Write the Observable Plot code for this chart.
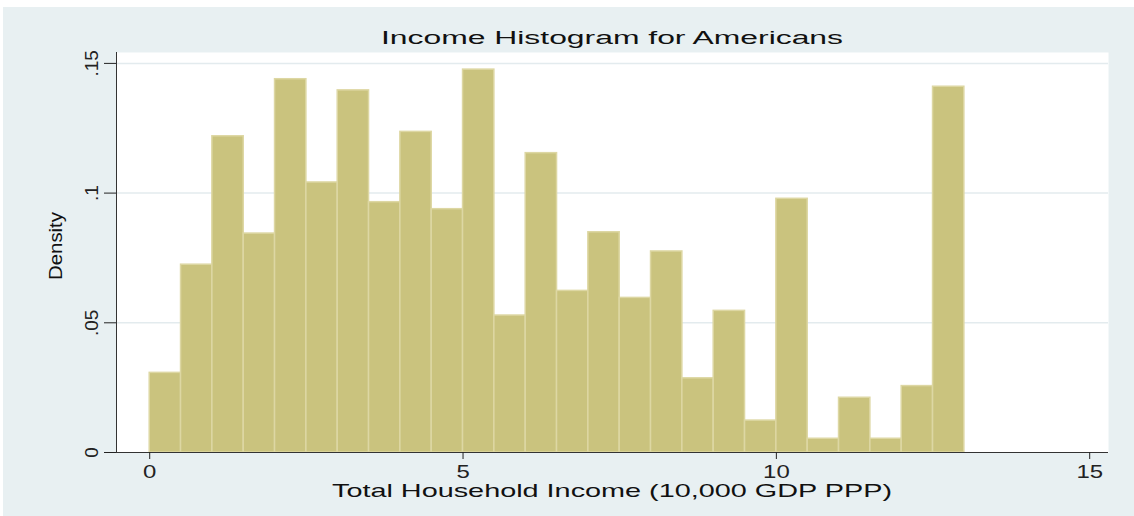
<!DOCTYPE html>
<html><head><meta charset="utf-8">
<script src="https://cdn.jsdelivr.net/npm/d3@7"></script>
<script src="https://cdn.jsdelivr.net/npm/@observablehq/plot@0.6"></script>
<style>
body{margin:0;background:#fff;}
#wrap{position:relative;width:1134px;height:516px;overflow:hidden;font-family:"Liberation Sans",Arial,sans-serif;color:#111;}
#bg{position:absolute;left:3px;top:7px;right:0;bottom:0;background:#e8f0f2;}
#chart{position:absolute;left:0;top:0;}
.lbl{position:absolute;white-space:nowrap;line-height:0.6;transform-origin:50% 50%;}
</style></head><body>
<div id="wrap"><div id="bg"></div><div id="chart"></div>
<div id="title" class="lbl">Income Histogram for Americans</div>
<div id="xtitle" class="lbl">Total Household Income (10,000 GDP PPP)</div>
<div id="ytitle" class="lbl">Density</div>
</div>
<script>
// Histogram bins (income in 10,000 GDP PPP) and densities
const binStart = [0,0.5,1,1.5,2,2.5,3,3.5,4,4.5,5,5.5,6,6.5,7,7.5,8,8.5,9,9.5,10,10.5,11,11.5,12,12.5];
const binEnd   = [0.5,1,1.5,2,2.5,3,3.5,4,4.5,5,5.5,6,6.5,7,7.5,8,8.5,9,9.5,10,10.5,11,11.5,12,12.5,13];
const density  = [0.0307,0.0724,0.1219,0.0844,0.1439,0.1041,0.1396,0.0965,0.1236,0.0938,
                  0.1476,0.0528,0.1154,0.0623,0.0849,0.0596,0.0775,0.0286,0.0546,0.0123,
                  0.0978,0.0053,0.0211,0.0053,0.0256,0.1410];
const xTicks = [0,5,10,15];
const yTicks = [0,0.05,0.1,0.15];
const yTickLabels = ["0",".05",".1",".15"];
const xDomain = [-0.53,15.3];
const yDomain = [0,0.1542];

const bins = binStart.map((s,i)=>({x1:s, x2:binEnd[i], d:density[i]}));

const plot = Plot.plot({
  width:1134, height:516,
  marginLeft:116, marginRight:26, marginTop:52, marginBottom:64,
  style:{background:"transparent", fontFamily:"Liberation Sans, Arial, sans-serif", color:"#222"},
  x:{domain:xDomain},
  y:{domain:yDomain},
  marks:[
    Plot.frame({fill:"white", stroke:null}),
    Plot.gridY(yTicks.filter(d=>d>0), {stroke:"#e3ebee", strokeOpacity:1, strokeWidth:1.5}),
    Plot.rectY(bins, {x1:"x1", x2:"x2", y:"d", fill:"#cac37e", stroke:"#ddd7a3", strokeWidth:1.5}),
    Plot.ruleY([0], {stroke:"#333"}),
    Plot.ruleX([xDomain[0]], {stroke:"#333"}),
    Plot.axisX({ticks:xTicks, tickSize:7, tickPadding:6, fontSize:18, label:null}),
    Plot.axisY({ticks:yTicks, tickSize:12, tickPadding:7, tickRotate:-90, fontSize:19, label:null,
                tickFormat:d=>yTickLabels[yTicks.indexOf(d)]})
  ]
});
document.getElementById("chart").append(plot);

d3.select(plot).selectAll('g[aria-label="x-axis tick label"] text').each(function(){
  const L = this.getComputedTextLength();
  this.setAttribute("textLength", L*1.33);
  this.setAttribute("lengthAdjust","spacingAndGlyphs");
});

// line-height 0.6em: baseline sits (0.6-1.117)/2+0.905 em below the box top
const BASE = (0.6-1.117)/2+0.905;
function place(id, fs, cx, cyOrBaseline, targetLen, rotated){
  const el = document.getElementById(id);
  el.style.fontSize = fs+"px";
  const w = el.getBoundingClientRect().width;
  const s = targetLen / w;
  el.style.left = cx+"px";
  if (rotated){
    el.style.top = cyOrBaseline+"px";
    el.style.transform = `translate(-50%,-50%) rotate(-90deg) scaleX(${s})`;
  } else {
    el.style.top = (cyOrBaseline - BASE*fs)+"px";
    el.style.transform = `translateX(-50%) scaleX(${s})`;
  }
}
place("title", 18, 612, 45, 462, false);
place("xtitle", 18.6, 612, 497.5, 560, false);
place("ytitle", 18.5, 56, 246, 68, true);
</script>
</body></html>
